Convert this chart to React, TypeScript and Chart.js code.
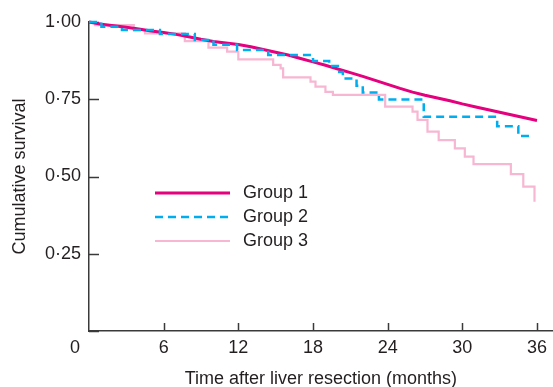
import { useEffect, useRef } from 'react';
import { Chart, registerables } from 'chart.js';

Chart.register(...registerables);

// ---- data ----
const seriesLabels = ['Group 1', 'Group 2', 'Group 3'];

const group1Months = [0, 1, 2, 3, 4, 5, 6, 7, 8, 9, 10, 11, 12, 13, 14, 15, 16, 17, 18, 19, 20, 21, 22, 23, 24, 25, 26, 27, 28, 29, 30, 31, 32, 33, 34, 35, 36];
const group1Survival = [1.0, 0.993, 0.988, 0.983, 0.977, 0.971, 0.966, 0.96, 0.952, 0.944, 0.937, 0.932, 0.927, 0.92, 0.911, 0.902, 0.893, 0.882, 0.871, 0.86, 0.848, 0.836, 0.824, 0.811, 0.798, 0.785, 0.773, 0.763, 0.754, 0.745, 0.735, 0.726, 0.717, 0.708, 0.699, 0.69, 0.681];

const group2Months = [0, 1.0, 2.65, 5.7, 8.5, 10.0, 11.9, 14.4, 18.0, 19.3, 20.0, 20.4, 21.5, 22.0, 23.3, 26.9, 32.8, 34.5, 35.7];
const group2Survival = [1.0, 0.985, 0.974, 0.961, 0.942, 0.926, 0.909, 0.893, 0.874, 0.858, 0.838, 0.817, 0.794, 0.772, 0.749, 0.693, 0.663, 0.631, 0.631];

const group3Months = [0, 0.5, 3.6, 4.5, 7.7, 9.6, 11.1, 12.0, 14.8, 15.4, 15.6, 17.8, 18.2, 19.0, 19.6, 23.8, 26.0, 26.4, 27.2, 28.1, 29.4, 30.2, 30.9, 33.9, 34.9, 35.8];
const group3Survival = [1.0, 0.99, 0.974, 0.963, 0.938, 0.917, 0.904, 0.879, 0.861, 0.85, 0.821, 0.807, 0.791, 0.774, 0.764, 0.726, 0.71, 0.683, 0.645, 0.618, 0.591, 0.564, 0.54, 0.508, 0.467, 0.418];

const xTickValues = [0, 6, 12, 18, 24, 30, 36];
const xTickLabels = ['', '6', '12', '18', '24', '30', '36'];
const yTickValues = [0, 0.25, 0.5, 0.75, 1];
const yTickLabels = ['', '0·25', '0·50', '0·75', '1·00'];
const originLabel = '0';
const xTitle = 'Time after liver resection (months)';
const yTitle = 'Cumulative survival';

const TEXT = '#231f20';
const AXIS = '#3a3a3a';
const FONT = 'Liberation Sans, Arial, Helvetica, sans-serif';
const colors = ['#e5007d', '#00aeef', '#f7b6d2'];
const widths = [3, 2.5, 2.2];
const dashes: number[][] = [[], [8, 5], []];

const toPoints = (xs: number[], ys: number[]) => xs.map((x, i) => ({ x, y: ys[i] }));

const decorPlugin = {
  id: 'decor',
  beforeDatasetsDraw(chart: any) {
    const { ctx, scales } = chart;
    const xs = scales.x;
    const ys = scales.y;
    ctx.save();
    ctx.strokeStyle = AXIS;
    ctx.lineWidth = 1.5;
    xTickValues.forEach((v) => {
      if (v === 0) return;
      const px = Math.round(xs.getPixelForValue(v)) + 0.5;
      ctx.beginPath();
      ctx.moveTo(px, ys.bottom);
      ctx.lineTo(px, ys.bottom - 8);
      ctx.stroke();
    });
    yTickValues.forEach((v) => {
      const py = Math.round(ys.getPixelForValue(v)) + 0.5;
      ctx.beginPath();
      ctx.moveTo(xs.left, py);
      ctx.lineTo(xs.left + 10, py);
      ctx.stroke();
    });
    ctx.restore();
  },
  afterDraw(chart: any) {
    const { ctx, scales } = chart;
    const xs = scales.x;
    const ys = scales.y;
    ctx.save();
    ctx.fillStyle = TEXT;
    ctx.font = `18px ${FONT}`;
    ctx.textAlign = 'center';
    ctx.textBaseline = 'middle';
    ctx.fillText(originLabel, xs.left - 14, ys.bottom + 17);
    const lx0 = xs.left + 66;
    const lx1 = xs.left + 141;
    const ly0 = ys.top + 171;
    const gap = 24;
    seriesLabels.forEach((label, i) => {
      const y = ly0 + i * gap;
      ctx.beginPath();
      ctx.strokeStyle = colors[i];
      ctx.lineWidth = widths[i];
      ctx.setLineDash(dashes[i]);
      ctx.moveTo(lx0, y);
      ctx.lineTo(lx1, y);
      ctx.stroke();
      ctx.setLineDash([]);
      ctx.fillStyle = TEXT;
      ctx.textAlign = 'left';
      ctx.fillText(label, lx1 + 13, y);
    });
    ctx.restore();
  },
};

export default function App() {
  const canvasRef = useRef<HTMLCanvasElement | null>(null);

  useEffect(() => {
    if (!canvasRef.current) return;
    const chart = new Chart(canvasRef.current, {
      type: 'line',
      data: {
        datasets: [
          {
            label: seriesLabels[0],
            data: toPoints(group1Months, group1Survival),
            borderColor: colors[0],
            borderWidth: widths[0],
            pointRadius: 0,
            tension: 0,
            fill: false,
            clip: false,
            order: 2,
          },
          {
            label: seriesLabels[1],
            data: toPoints(group2Months, group2Survival),
            borderColor: colors[1],
            borderWidth: widths[1],
            borderDash: dashes[1],
            pointRadius: 0,
            stepped: 'before',
            fill: false,
            clip: false,
            order: 1,
          },
          {
            label: seriesLabels[2],
            data: toPoints(group3Months, group3Survival),
            borderColor: colors[2],
            borderWidth: widths[2],
            pointRadius: 0,
            stepped: 'before',
            fill: false,
            clip: false,
            order: 3,
          },
        ],
      },
      options: {
        animation: false,
        responsive: false,
        maintainAspectRatio: false,
        layout: { padding: { top: 22, right: 0, left: 0, bottom: 0 } },
        plugins: { legend: { display: false }, tooltip: { enabled: false } },
        scales: {
          x: {
            type: 'linear',
            min: 0,
            max: 37.26,
            afterFit: (s: any) => { s.height = 56; },
            afterBuildTicks: (s: any) => { s.ticks = xTickValues.map((value) => ({ value })); },
            grid: { display: false, drawTicks: false },
            border: { display: true, color: AXIS, width: 1.5 },
            ticks: {
              padding: 6,
              color: TEXT,
              font: { family: FONT, size: 18 },
              callback: (v: any) => xTickLabels[xTickValues.indexOf(Number(v))] ?? '',
              maxRotation: 0,
              autoSkip: false,
            },
            title: {
              display: true,
              text: xTitle,
              color: TEXT,
              font: { family: FONT, size: 18 },
              padding: { top: -3, bottom: -3 },
            },
          },
          y: {
            type: 'linear',
            min: 0,
            max: 1,
            afterFit: (s: any) => { s.width = 89; },
            afterBuildTicks: (s: any) => { s.ticks = yTickValues.map((value) => ({ value })); },
            grid: { display: false, drawTicks: false },
            border: { display: true, color: AXIS, width: 1.5 },
            ticks: {
              padding: 8,
              color: TEXT,
              font: { family: FONT, size: 18 },
              callback: (v: any) => yTickLabels[yTickValues.indexOf(Number(v))] ?? '',
              autoSkip: false,
            },
            title: {
              display: true,
              text: yTitle,
              color: TEXT,
              font: { family: FONT, size: 18 },
              padding: { top: 9, bottom: 0 },
            },
          },
        },
      },
      plugins: [decorPlugin],
    });
    return () => chart.destroy();
  }, []);

  return (
    <div style={{ position: 'fixed', left: 0, top: 0, width: 553, height: 387, background: '#fff' }}>
      <canvas ref={canvasRef} width={553} height={387} style={{ width: 553, height: 387, display: 'block' }} />
    </div>
  );
}
